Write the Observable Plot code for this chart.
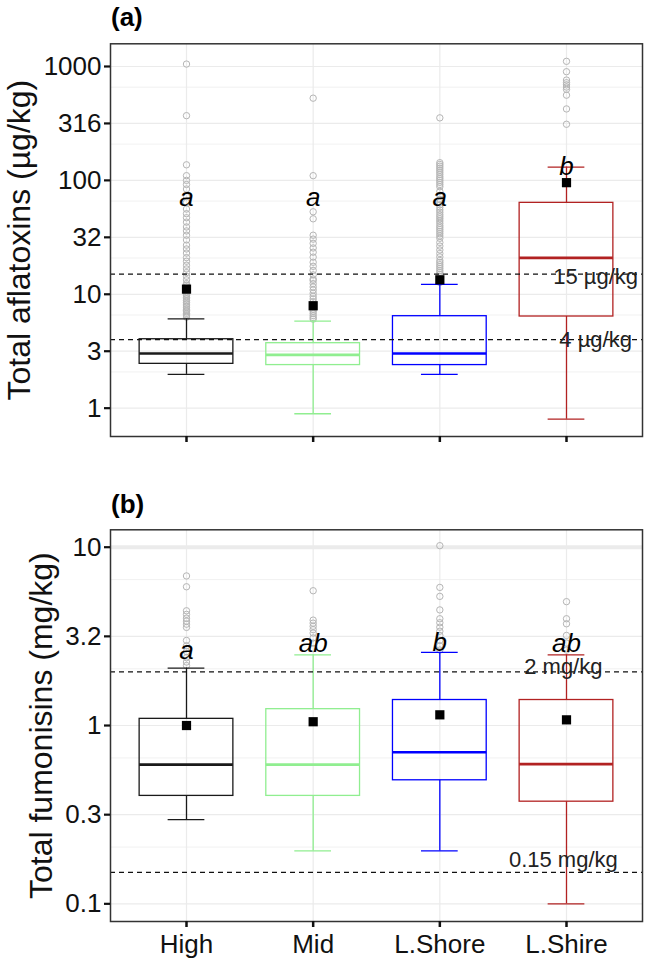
<!DOCTYPE html>
<html><head><meta charset="utf-8">
<script src="https://cdn.jsdelivr.net/npm/d3@7"></script>
<script src="https://cdn.jsdelivr.net/npm/@observablehq/plot@0.6"></script>
<style>
body{margin:0;background:#fff;font-family:"Liberation Sans",Arial,sans-serif;}
#wrap{position:relative;width:645px;height:964px;overflow:hidden;}
.title{position:absolute;left:111px;font-weight:bold;font-size:26px;line-height:26px;color:#000;}
#pa{position:absolute;left:0;top:0;}
#pb{position:absolute;left:0;top:480px;}
</style></head><body>
<div id="wrap"><div id="pa"></div><div id="pb"></div>
<div class="title" style="top:4px">(a)</div><div class="title" style="top:491px">(b)</div></div>
<script>
// ---------- shared ----------
const categories = ["High", "Mid", "L.Shore", "L.Shire"];
const boxColors = ["#1a1a1a", "#90EE90", "#0000FF", "#B22222"];

// ---------- panel (a): total aflatoxins (µg/kg) ----------
const afTicks = [1, 3.1623, 10, 31.623, 100, 316.23, 1000];
const afTickLabels = ["1", "3", "10", "32", "100", "316", "1000"];
const afLow = [1.98, 0.893, 1.98, 0.80];
const afQ1 = [2.45, 2.39, 2.39, 6.38];
const afMedian = [3.02, 2.94, 3.02, 20.9];
const afQ3 = [4.03, 3.72, 6.42, 63.5];
const afHigh = [6.09, 5.8, 12.2, 131];
const afMean = [11.1, 7.93, 13.4, 95.5];
const afLetters = ["a", "a", "a", "b"];
const afLetterY = [71, 71, 71, 133];
const afOutHigh = [1050, 370, 137, 110, 100, 92, 84, 72, 64, 56, 51, 47, 43, 39, 36, 33, 30, 27, 25, 23, 21, 19.5, 18, 16.7, 15.5, 14.4, 13.4,
  12.4, 12.0, 11.6, 11.2, 10.8, 10.4, 10.0, 9.7, 9.4, 9.1, 8.8, 8.5, 8.2, 7.9, 7.7, 7.4, 7.2, 7.0, 6.8, 6.6, 6.45, 6.3];
const afOutMid = [527, 110, 53, 46, 33, 30.5, 28, 25.5, 23.4, 21.2, 19.1, 17.6, 16.2, 14.8, 13.6,
  13.2, 12.4, 11.6, 10.9, 10.2, 9.6, 9.1, 8.6, 8.2, 7.8, 7.4, 7.1, 6.8, 6.5, 6.25, 6.05];
const afOutShore = [354, 143, 138, 133, 128, 123, 118, 113, 108, 104, 100, 96, 92, 88, 80, 74, 68,
  64, 61, 58, 55, 52.5, 50, 48, 46, 44, 42, 40, 38.5, 37, 35.5, 34, 32.5, 31,
  28.5, 26.5, 24.5, 22.8, 21.3, 19.8, 19, 18.2, 17.5, 16.8, 16.1, 15.5, 14.9, 14.3, 13.7, 13.2, 12.7];
const afOutShire = [1110, 900, 760, 720, 690, 660, 630, 560, 424, 311];
const afRefs = [15, 4];
const afRefLabels = ["15 µg/kg", "4 µg/kg"];
const afYLabel = "Total aflatoxins (µg/kg)";

// ---------- panel (b): total fumonisins (mg/kg) ----------
const fuTicks = [0.1, 0.31623, 1, 3.1623, 10];
const fuTickLabels = ["0.1", "0.3", "1", "3.2", "10"];
const fuLow = [0.297, 0.198, 0.198, 0.1];
const fuQ1 = [0.403, 0.403, 0.493, 0.374];
const fuMedian = [0.604, 0.604, 0.708, 0.607];
const fuQ3 = [1.09, 1.235, 1.39, 1.39];
const fuHigh = [2.10, 2.49, 2.57, 2.49];
const fuMean = [1.0, 1.05, 1.148, 1.076];
const fuLetters = ["a", "ab", "b", "ab"];
const fuLetterY = [2.63, 2.87, 2.93, 2.87];
const fuOutHigh = [6.9, 6.0, 4.4, 4.2, 4.0, 3.85, 3.7, 3.55, 3.0, 2.8, 2.6, 2.4, 2.27, 2.17];
const fuOutMid = [5.7, 3.9, 3.75, 3.6, 3.45, 3.3, 3.1, 2.9, 2.7];
const fuOutShore = [10.2, 5.95, 5.3, 4.45, 3.97, 3.77, 3.56, 3.38, 3.2, 3.0, 2.8, 2.65];
const fuOutShire = [4.95, 3.97, 3.72, 3.2, 2.9, 2.65];
const fuRefs = [2, 0.15];
const fuRefLabels = ["2 mg/kg", "0.15 mg/kg"];
const fuYLabel = "Total fumonisins (mg/kg)";

const FONT = "'Liberation Sans', Arial, sans-serif";
const idx = categories.map((_, i) => i);

function panel(o) {
  const outData = o.outliers.flatMap((arr, i) => arr.map(v => ({i, v})));
  const minor = d3.pairs(o.ticks).map(([a, b]) => (a + b) / 2);
  const tickMap = new Map(o.ticks.map((t, k) => [t, o.tickLabels[k]]));
  const hb = 0.37, hc = 0.145;
  const marks = [
    Plot.ruleY(minor, {stroke: "#ebebeb", strokeWidth: 0.7}),
    Plot.ruleY(o.ticks, {stroke: "#ebebeb", strokeWidth: 1.2}),
    Plot.ruleX(idx, {stroke: "#ebebeb", strokeWidth: 1.2}),
  ];
  if (o.thickTop) marks.push(Plot.ruleY([o.thickTop], {stroke: "#ebebeb", strokeWidth: 4}));
  marks.push(
    Plot.dot(outData, {x: "i", y: "v", r: 3.2, stroke: "#b5b5b5", fill: "none", strokeWidth: 1}),
    Plot.ruleX(idx, {x: i => i, y1: i => o.q3[i], y2: i => o.high[i], stroke: i => boxColors[i], strokeWidth: 1.3}),
    Plot.ruleX(idx, {x: i => i, y1: i => o.low[i], y2: i => o.q1[i], stroke: i => boxColors[i], strokeWidth: 1.3}),
    Plot.ruleY(idx, {y: i => o.high[i], x1: i => i - hc, x2: i => i + hc, stroke: i => boxColors[i], strokeWidth: 1.3}),
    Plot.ruleY(idx, {y: i => o.low[i], x1: i => i - hc, x2: i => i + hc, stroke: i => boxColors[i], strokeWidth: 1.3}),
    Plot.rect(idx, {x1: i => i - hb, x2: i => i + hb, y1: i => o.q1[i], y2: i => o.q3[i], fill: "none", stroke: i => boxColors[i], strokeWidth: 1.3}),
    Plot.ruleY(idx, {y: i => o.median[i], x1: i => i - hb, x2: i => i + hb, stroke: i => boxColors[i], strokeWidth: 2.7}),
    Plot.ruleY(o.refs, {stroke: "#111", strokeWidth: 1.2, strokeDasharray: "5,4"}),
  );
  o.refs.forEach((r, k) => {
    marks.push(Plot.text([k], {x: o.refX, y: () => r, text: () => o.refLabels[k], dy: o.refDy[k],
      fontSize: 22, fill: "#222", textAnchor: "middle"}));
  });
  marks.push(
    Plot.dot(idx, {x: i => i, y: i => o.mean[i], symbol: "square", r: 5.2, fill: "black"}),
    Plot.text(idx, {x: i => i, y: i => o.letterY[i], text: i => o.letters[i], fontSize: 26, fontStyle: "italic", fill: "black"}),
    Plot.frame({stroke: "#333", strokeWidth: 1.5}),
    Plot.axisY(o.ticks, {tickFormat: d => tickMap.get(d), tickSize: 6, tickPadding: 3, fontSize: 26,
      strokeWidth: 2.2, color: "#111", label: null}),
    Plot.axisX(idx, {tickFormat: o.showX ? (i => categories[i]) : (() => ""), tickSize: 6, tickPadding: 7,
      fontSize: 26, strokeWidth: 2.5, color: "#111", label: null}),
    Plot.text([o.ylabel], {frameAnchor: "left", dx: o.ylabelDx, rotate: -90, fontSize: 32, fill: "#111",
      text: d => d, textAnchor: "middle", lineAnchor: "middle"})
  );
  return Plot.plot({
    width: 645, height: o.height,
    marginLeft: 110, marginRight: 3, marginTop: o.mTop, marginBottom: o.mBottom,
    x: {type: "linear", domain: [-0.6, 3.6]},
    y: {type: "log", domain: o.domain},
    color: {type: "identity"},
    style: {fontFamily: FONT, background: "white", overflow: "visible"},
    marks
  });
}

document.getElementById("pa").append(panel({
  height: 480, mTop: 43.3, mBottom: 44, domain: [0.564, 1582],
  ticks: afTicks, tickLabels: afTickLabels,
  low: afLow, q1: afQ1, median: afMedian, q3: afQ3, high: afHigh, mean: afMean,
  outliers: [afOutHigh, afOutMid, afOutShore, afOutShire],
  letters: afLetters, letterY: afLetterY,
  refs: afRefs, refLabels: afRefLabels, refDy: [3, 0], refX: 3.23,
  ylabel: afYLabel, ylabelDx: -90.5, showX: false
}));

document.getElementById("pb").append(panel({
  height: 484, mTop: 49.3, mBottom: 43, domain: [0.0796, 12.52],
  ticks: fuTicks, tickLabels: fuTickLabels,
  low: fuLow, q1: fuQ1, median: fuMedian, q3: fuQ3, high: fuHigh, mean: fuMean,
  outliers: [fuOutHigh, fuOutMid, fuOutShore, fuOutShire],
  letters: fuLetters, letterY: fuLetterY,
  refs: fuRefs, refLabels: fuRefLabels, refDy: [-5, -12], refX: 2.975,
  ylabel: fuYLabel, ylabelDx: -68.5, showX: true, thickTop: 10
}));
</script>
</body></html>
